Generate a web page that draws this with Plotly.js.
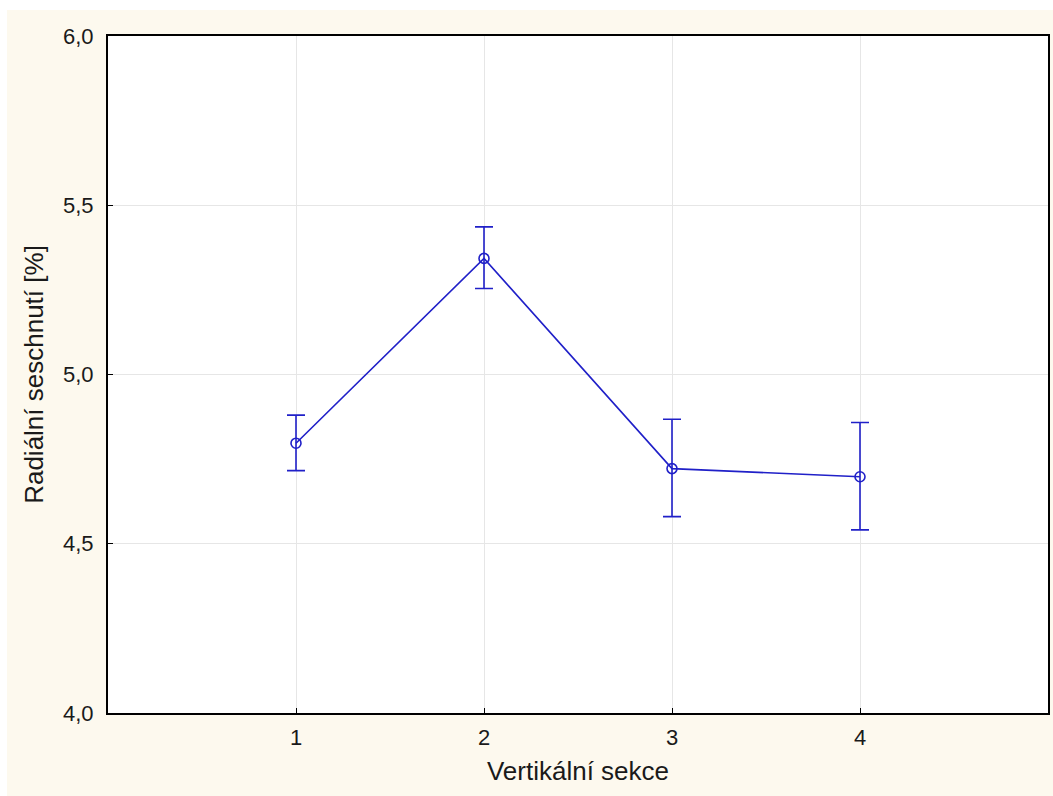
<!DOCTYPE html>
<html>
<head>
<meta charset="utf-8">
<script src="https://cdn.plot.ly/plotly-3.0.1.min.js"></script>
<style>
html,body{margin:0;padding:0;background:#ffffff;}
#chart{position:absolute;left:7px;top:10px;width:1046px;height:786px;}
</style>
</head>
<body>
<div id="chart"></div>
<script>
const sections = [1, 2, 3, 4];
const means = [4.797, 5.343, 4.722, 4.698];
const errPlus = [0.083, 0.093, 0.146, 0.160];
const errMinus = [0.081, 0.089, 0.142, 0.157];
const xTickLabels = ['1', '2', '3', '4'];
const yTickVals = [4.0, 4.5, 5.0, 5.5, 6.0];

const blue = 'rgb(32,32,200)';
const trace = {
  x: sections,
  y: means,
  type: 'scatter',
  mode: 'lines+markers',
  line: {color: blue, width: 1.6},
  marker: {symbol: 'circle-open', size: 10, color: blue, line: {width: 1.6, color: blue}},
  error_y: {type: 'data', symmetric: false, array: errPlus, arrayminus: errMinus,
            color: blue, thickness: 1.6, width: 9},
  showlegend: false,
  hoverinfo: 'x+y'
};

const layout = {
  width: 1046, height: 786,
  margin: {l: 101, r: 5, t: 26, b: 83},
  paper_bgcolor: '#fdf9ee',
  plot_bgcolor: '#ffffff',
  separators: ',.',
  font: {family: 'Liberation Sans, Arial, sans-serif', color: '#1a1a1a', size: 22},
  xaxis: {
    range: [0, 5],
    tickvals: sections,
    ticktext: xTickLabels,
    ticks: 'inside', ticklen: 5, tickcolor: '#000',
    tickfont: {size: 22},
    showgrid: true, gridcolor: '#e6e6e6', gridwidth: 1,
    showline: true, linecolor: '#000', linewidth: 2, mirror: true,
    zeroline: false,
    ticklabelstandoff: 4,
    title: {text: 'Vertikální sekce', font: {size: 26}, standoff: 12}
  },
  yaxis: {
    range: [4, 6],
    tickvals: yTickVals,
    tickformat: '.1f',
    ticks: 'inside', ticklen: 5, tickcolor: '#000',
    tickfont: {size: 22},
    showgrid: true, gridcolor: '#e6e6e6', gridwidth: 1,
    showline: true, linecolor: '#000', linewidth: 2, mirror: true,
    zeroline: false,
    ticklabelstandoff: 8,
    title: {text: 'Radiální seschnutí [%]', font: {size: 26}, standoff: 12}
  }
};

Plotly.newPlot('chart', [trace], layout, {displayModeBar: false, staticPlot: true});
</script>
</body>
</html>
